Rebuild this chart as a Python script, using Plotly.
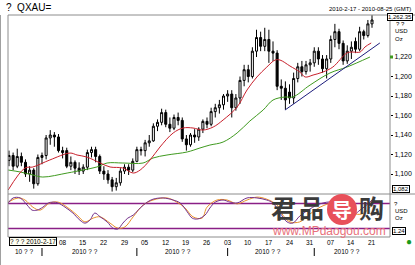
import plotly.graph_objects as go
import pandas as pd

# ---------------- data ----------------
dates = list(pd.bdate_range("2010-02-17", "2010-06-21").strftime("%Y-%m-%d"))

opens = [1114,1119,1108,1118,1112,1100,1104,1090,1117,1119,1137,1140,1138,1124,1124,1108,1112,1106,1103,1107,
         1122,1125,1118,1103,1100,1094,1087,1091,1103,1107,1104,1113,1125,1124,1132,1134,1149,1153,1163,1151,
         1147,1158,1155,1136,1130,1140,1138,1146,1154,1151,1164,1168,1171,1180,1182,1168,1178,1196,1207,1200,
         1226,1240,1231,1238,1226,1224,1190,1188,1184,1178,1198,1210,1205,1212,1214,1226,1218,1208,1218,1238,
         1246,1234,1216,1226,1236,1228,1246,1242,1254]
highs = [1124,1122,1126,1122,1115,1108,1106,1120,1122,1140,1145,1143,1141,1128,1127,1118,1114,1112,1110,1125,
         1128,1128,1120,1108,1104,1097,1096,1106,1110,1110,1116,1128,1128,1135,1140,1152,1156,1167,1166,1158,
         1161,1163,1158,1140,1142,1146,1148,1156,1158,1168,1172,1176,1182,1186,1186,1182,1200,1212,1212,1230,
         1248,1246,1250,1248,1236,1227,1197,1195,1192,1204,1214,1216,1216,1218,1230,1230,1222,1222,1242,1254,
         1249,1237,1232,1236,1240,1251,1248,1258,1263]
lows = [1108,1104,1106,1108,1097,1092,1085,1088,1110,1115,1130,1128,1122,1116,1106,1104,1100,1099,1100,1104,
        1117,1112,1100,1094,1090,1082,1083,1088,1100,1099,1102,1112,1119,1118,1128,1133,1144,1150,1148,1143,
        1145,1150,1133,1124,1128,1132,1134,1142,1147,1149,1158,1162,1166,1174,1158,1165,1172,1190,1194,1198,
        1220,1226,1226,1214,1216,1186,1176,1166,1172,1172,1194,1200,1202,1205,1210,1212,1204,1198,1214,1230,
        1228,1212,1213,1218,1224,1226,1238,1240,1250]
closes = [1119,1108,1118,1112,1100,1104,1090,1117,1119,1137,1140,1138,1124,1122,1108,1112,1106,1103,1107,1122,
          1125,1118,1103,1100,1094,1087,1091,1103,1107,1104,1113,1125,1124,1132,1134,1149,1153,1163,1151,1147,
          1158,1155,1136,1130,1140,1138,1146,1154,1151,1164,1168,1171,1180,1182,1168,1178,1196,1207,1200,1226,
          1240,1231,1238,1226,1224,1190,1188,1176,1178,1198,1210,1205,1212,1214,1226,1218,1208,1218,1238,1246,
          1234,1216,1226,1230,1228,1246,1242,1254,1258]

# moving averages (trading-day position, price)
ma_red_pos = [-0.2,3.9,5.8,9.9,14.8,16.5,18.9,22.1,24.5,27.6,30.1,31.8,34.2,36.6,39.8,42.2,44.6,47.0,49.5,51.9,
              55.3,57.7,60.1,62.5,64.5,65.7,68.1,70.5,71.8,73.7,76.1,78.5,81.9,83.2,85.1,86.3,87.8]
ma_red_val = [1083.6,1106.2,1107.2,1114.4,1121.5,1119.5,1117.4,1111.3,1107.2,1106.2,1101.0,1104.1,1114.4,1127.7,
              1142.1,1147.2,1147.2,1145.1,1148.2,1155.4,1168.7,1186.2,1199.5,1209.7,1216.9,1216.9,1210.8,1204.6,
              1199.5,1201.5,1204.6,1209.7,1224.1,1225.1,1225.1,1230.3,1234.4]
ma_green_pos = [-0.2,2.7,5.8,8.2,14.1,17.9,21.3,23.8,27.6,32.5,34.9,38.3,43.2,46.3,48.7,51.9,55.3,58.4,61.6,
                64.0,66.9,68.8,73.0,77.8,81.9,87.5]
ma_green_val = [1104.1,1102.1,1099.0,1096.9,1101.0,1104.1,1107.2,1111.3,1111.3,1111.3,1116.4,1119.5,1122.6,
                1126.7,1129.7,1132.8,1142.1,1154.4,1165.6,1175.9,1179.0,1179.0,1191.3,1203.6,1209.7,1220.0]
trend_pos = [66.9, 89.9]
trend_val = [1165.6, 1234.4]

# stochastic oscillator
k_pos = [-0.2,1.0,2.7,4.4,5.6,6.8,8.2,9.5,10.7,11.9,13.6,15.5,17.2,18.4,19.6,20.8,22.1,23.8,25.2,26.4,27.6,28.8,
         30.1,31.8,33.5,34.9,37.3,39.8,41.5,43.2,44.4,45.8,47.5,48.7,50.0,51.9,53.6,55.3,57.7,60.1,62.5,64.0,
         65.7,67.4,68.8,70.5,73.0,75.4,78.5,81.0,82.7,85.1,87.5,88.0]
k_val = [81,93,93,76,64,64,71,81,83,81,71,57,40,33,40,57,48,36,21,19,33,45,52,69,83,90,93,88,81,60,45,43,52,69,
         83,88,83,81,93,93,88,81,57,36,33,50,67,79,83,69,48,64,83,88]
d_pos = [-0.2,2.2,3.9,5.8,7.5,9.9,11.9,14.1,16.5,18.4,20.4,22.1,24.5,26.4,28.1,30.1,32.5,34.9,38.3,40.7,42.7,
         44.6,46.8,48.0,50.4,52.9,55.3,57.7,60.1,62.5,65.0,66.4,68.1,70.5,73.0,75.4,78.5,81.5,83.4,85.6,88.0]
d_val = [83,93,88,71,64,81,83,71,52,36,45,48,33,21,24,48,76,88,93,83,69,48,45,71,88,88,79,88,95,90,76,52,36,36,
         55,71,81,76,57,55,76]
stoch_levels = [80, 20]

week_dates = ["2010-03-08","2010-03-15","2010-03-22","2010-03-29","2010-04-05","2010-04-12","2010-04-19",
              "2010-04-26","2010-05-03","2010-05-10","2010-05-17","2010-05-24","2010-05-31","2010-06-07",
              "2010-06-14","2010-06-21"]
week_labels = ["08","15","22","29","05","12","19","26","03","10","17","24","31","07","14","21"]
month_starts = ["2010-03-01","2010-04-01","2010-05-03","2010-06-01"]
month_labels = ["10 ? ?","2010 ? ?","2010 ? ?","2010 ? ?","2010 ? ?"]
month_label_pos = [3.6, 18.5, 41.0, 62.8, 82.0]
price_ticks = [1100,1120,1140,1160,1180,1200,1220]

# ---------------- figure ----------------
W, H = 415, 265
def px(x): return x / W
def py(y): return 1 - y / H

idx = list(range(len(dates)))
FONT = "Liberation Sans"

fig = go.Figure()
fig.add_trace(go.Candlestick(
    x=idx, open=opens, high=highs, low=lows, close=closes,
    increasing=dict(line=dict(color="black", width=1), fillcolor="white"),
    decreasing=dict(line=dict(color="black", width=1), fillcolor="black"),
    whiskerwidth=0, xaxis="x", yaxis="y", showlegend=False, hoverinfo="skip"))
fig.add_trace(go.Scatter(x=ma_green_pos, y=ma_green_val, mode="lines",
                         line=dict(color="#3f9a1f", width=1, shape="spline"), xaxis="x", yaxis="y"))
fig.add_trace(go.Scatter(x=ma_red_pos, y=ma_red_val, mode="lines",
                         line=dict(color="#c8202c", width=1, shape="spline"), xaxis="x", yaxis="y"))
fig.add_trace(go.Scatter(x=trend_pos, y=trend_val, mode="lines",
                         line=dict(color="#1c1c7c", width=1), xaxis="x", yaxis="y"))

for lv in stoch_levels:
    fig.add_trace(go.Scatter(x=[-1, 95], y=[lv, lv], mode="lines",
                             line=dict(color="#8a1f86", width=1.5), xaxis="x2", yaxis="y2"))
fig.add_trace(go.Scatter(x=d_pos, y=d_val, mode="lines",
                         line=dict(color="#e8902a", width=1, shape="spline"), xaxis="x2", yaxis="y2"))
fig.add_trace(go.Scatter(x=k_pos, y=k_val, mode="lines",
                         line=dict(color="#74308a", width=1, shape="spline"), xaxis="x2", yaxis="y2"))

xr = [-0.24, 92.36]
fig.update_layout(
    width=W, height=H, margin=dict(l=0, r=0, t=0, b=0),
    paper_bgcolor="white", plot_bgcolor="white", showlegend=False,
    font=dict(family=FONT, size=7, color="black"),
    xaxis=dict(domain=[px(8), px(390)], range=xr, showticklabels=False, showgrid=False,
               zeroline=False, rangeslider=dict(visible=False), anchor="y"),
    yaxis=dict(domain=[py(194), py(15)], range=[1079.5, 1263.1], side="right", anchor="x",
               tickvals=price_ticks, ticktext=[f"{v:,}" for v in price_ticks],
               ticks="outside", ticklen=2, tickcolor="black", showgrid=False, zeroline=False,
               tickfont=dict(size=7, family=FONT)),
    xaxis2=dict(domain=[px(8), px(390)], range=xr, showticklabels=False, showgrid=False,
                zeroline=False, anchor="y2", matches="x"),
    yaxis2=dict(domain=[py(237), py(194)], range=[0, 102.4], showticklabels=False,
                showgrid=False, zeroline=False, anchor="x2"),
)

shapes = []
def line(x0, y0, x1, y1, color="#8c8c8c", w=1):
    shapes.append(dict(type="line", xref="paper", yref="paper", x0=px(x0), y0=py(y0),
                       x1=px(x1), y1=py(y1), line=dict(color=color, width=w)))
line(8, 15, 415, 15)
line(8, 15, 8, 237)
line(390, 15, 390, 237)
line(8, 194, 415, 194)
line(8, 237, 390, 237)
line(0.5, 15, 0.5, 265, "#a0a0a0")
for d in month_starts:
    i = dates.index(d)
    shapes.append(dict(type="line", xref="x2", yref="paper", x0=i, x1=i, y0=py(256), y1=py(248),
                       line=dict(color="black", width=1)))
# green marker for MA value on axis
shapes.append(dict(type="rect", xref="paper", yref="paper", x0=px(390), x1=px(393), y0=py(58.5), y1=py(55.5),
                   fillcolor="#3f9a1f", line=dict(width=0)))
# watermark circle
shapes.append(dict(type="circle", xref="paper", yref="paper", x0=px(327), x1=px(357), y0=py(225), y1=py(194),
                   fillcolor="#e8505a", line=dict(width=0), layer="above"))
fig.update_layout(shapes=shapes)

ann = []
def txt(x, y, s, size=7, xanchor="left", color="black", box=False, bg=None, family=FONT, **kw):
    d = dict(xref="paper", yref="paper", x=px(x), y=py(y), text=s, showarrow=False,
             xanchor=xanchor, yanchor="middle", font=dict(size=size, color=color, family=family))
    if box:
        d.update(bordercolor="black", borderwidth=1, borderpad=0, bgcolor=bg or "white")
    d.update(kw)
    ann.append(d)

txt(4, 8, "?  QXAU=", size=10)
txt(413, 9, "2010-2-17 - 2010-08-25 (GMT)", size=6, xanchor="right")
txt(413, 17, "1,262.35", size=6, box=True, xanchor="right")
txt(394, 24, "? ?", size=6)
txt(393, 31, "USD", size=6)
txt(393, 39, "Oz", size=6)
txt(392, 189, "1,082", size=6, box=True)
txt(392, 204, "?", size=6)
txt(393, 211, "USD", size=6)
txt(393, 218, "Oz", size=6)
txt(392, 231, "1.24", size=6, box=True)

# bottom axis labels
ann.append(dict(xref="paper", yref="paper", x=px(9), y=py(241.5), text="? ? ? 2010-2-17", showarrow=False,
                xanchor="left", yanchor="middle", font=dict(size=6.5, family=FONT),
                bordercolor="black", borderwidth=1, borderpad=0, bgcolor="#fffff2"))
for d, lab in zip(week_dates, week_labels):
    ann.append(dict(xref="x2", yref="paper", x=dates.index(d), y=py(242), text=lab, showarrow=False,
                    xanchor="center", yanchor="middle", font=dict(size=6.5, family=FONT)))
for p, lab in zip(month_label_pos, month_labels):
    ann.append(dict(xref="x2", yref="paper", x=p, y=py(251.5), text=lab, showarrow=False,
                    xanchor="center", yanchor="middle", font=dict(size=6.5, family=FONT)))

# watermark
CJK = "Noto Sans CJK SC"
txt(283, 207, "<b>君</b>", size=25, xanchor="center", color="#3a3a3a", family=CJK)
txt(311, 207, "<b>品</b>", size=25, xanchor="center", color="#3a3a3a", family=CJK)
txt(342, 209, "<b>导</b>", size=20, xanchor="center", color="white", family=CJK)
txt(371, 207, "<b>购</b>", size=25, xanchor="center", color="#3a3a3a", family=CJK)
txt(329, 231, "www.MPdaogou.com", size=12, xanchor="center", color="#e8707a")
ann.append(dict(xref="paper", yref="paper", x=px(409), y=py(241), text="●", showarrow=False,
                xanchor="center", yanchor="middle", font=dict(size=10, color="#1a9a1a")))
fig.update_layout(annotations=ann)

fig.write_html("out.html")
